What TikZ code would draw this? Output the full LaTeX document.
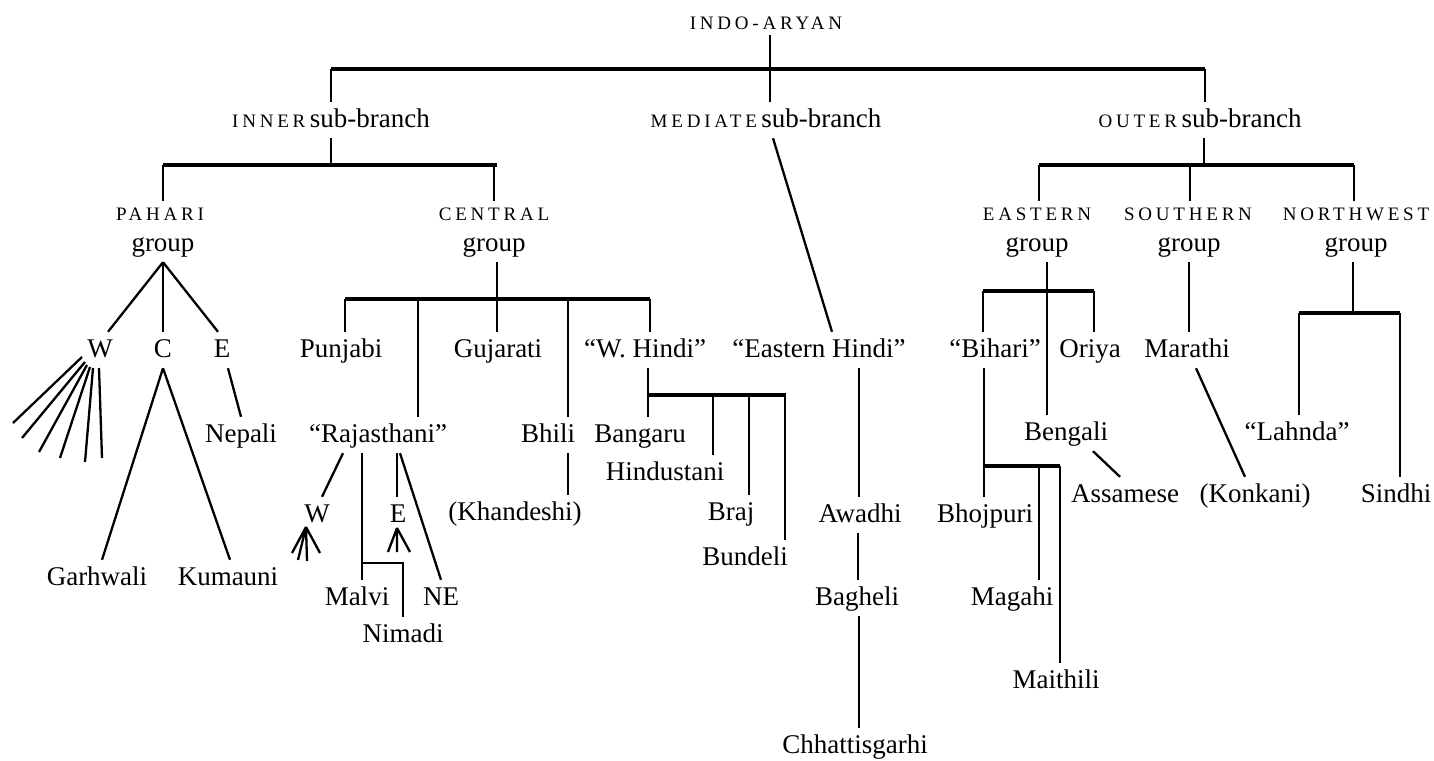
\documentclass[tikz,border=0pt]{standalone}
\usepackage{fontspec}
\setmainfont{Liberation Serif}
\newfontfamily\capf[LetterSpace=20]{Liberation Serif}
\newcommand\mysz{\fontsize{27}{30}\selectfont}
\newcommand\mysc[1]{{\capf\fontsize{19}{22}\selectfont #1}}
\begin{document}
\begin{tikzpicture}[x=1pt,y=-1pt,
  lab/.style={font=\mysz, anchor=base, inner sep=5pt, text height=20pt, text depth=6pt},
  capl/.style={font=\mysz, anchor=base, inner sep=5pt, text height=14pt, text depth=0pt},
  ln/.style={line width=2.3pt},
  barln/.style={line width=3.2pt}]
\useasboundingbox (0,0) rectangle (1434,760);

% ---- labels ----
\node[capl] (indo) at (766,30) {\mysc{INDO-ARYAN}};
\node[lab] (inner) at (331,127) {\mysc{INNER}\,sub-branch};
\node[lab] (med) at (766,127) {\mysc{MEDIATE}\,sub-branch};
\node[lab] (outer) at (1200,127) {\mysc{OUTER}\,sub-branch};

\node[capl] (pahari) at (160,220) {\mysc{PAHARI}};
\node[lab] (pgroup) at (163,251) {group};
\node[capl] (central) at (494,220) {\mysc{CENTRAL}};
\node[lab] (cgroup) at (494,251) {group};
\node[capl] (eastern) at (1037,220) {\mysc{EASTERN}};
\node[lab] (egroup) at (1037,251) {group};
\node[capl] (southern) at (1188,220) {\mysc{SOUTHERN}};
\node[lab] (sgroup) at (1189,251) {group};
\node[capl] (northwest) at (1356,220) {\mysc{NORTHWEST}};
\node[lab] (nwgroup) at (1356,251) {group};

\node[lab] (pw) at (100,357) {W};
\node[lab] (pc) at (163,357) {C};
\node[lab] (pe) at (222,357) {E};
\node[lab] (punjabi) at (341,357) {Punjabi};
\node[lab] (guj) at (498,357) {Gujarati};
\node[lab] (whindi) at (645,357) {“W. Hindi”};
\node[lab] (ehindi) at (819,357) {“Eastern Hindi”};
\node[lab] (bihari) at (995,357) {“Bihari”};
\node[lab] (oriya) at (1090,357) {Oriya};
\node[lab] (marathi) at (1187,357) {Marathi};

\node[lab] (nepali) at (241,442) {Nepali};
\node[lab] (raj) at (378,442) {“Rajasthani”};
\node[lab] (bhili) at (548,442) {Bhili};
\node[lab] (bangaru) at (640,442) {Bangaru};
\node[lab] (bengali) at (1066,440) {Bengali};
\node[lab] (lahnda) at (1297,440) {“Lahnda”};
\node[lab] (hind) at (665,480) {Hindustani};

\node[lab] (w2) at (317,522) {W};
\node[lab] (e2) at (398,522) {E};
\node[lab] (khand) at (515,520) {(Khandeshi)};
\node[lab] (braj) at (731,520) {Braj};
\node[lab] (awadhi) at (860,522) {Awadhi};
\node[lab] (bhoj) at (985,522) {Bhojpuri};
\node[lab] (assam) at (1125,502) {Assamese};
\node[lab] (konkani) at (1255,502) {(Konkani)};
\node[lab] (sindhi) at (1396,502) {Sindhi};
\node[lab] (bund) at (745,565) {Bundeli};
\node[lab] (garh) at (97,585) {Garhwali};
\node[lab] (kum) at (228,585) {Kumauni};
\node[lab] (malvi) at (357,605) {Malvi};
\node[lab] (ne) at (441,605) {NE};
\node[lab] (bagheli) at (857,605) {Bagheli};
\node[lab] (magahi) at (1012,605) {Magahi};
\node[lab] (nimadi) at (403,642) {Nimadi};
\node[lab] (maith) at (1056,688) {Maithili};
\node[lab] (chhat) at (855,753) {Chhattisgarhi};

% ---- top ----
\draw[ln] (770,0 |- indo.south) -- (770,0 |- med.north);
\draw[barln] (331,69) -- (1205,69);
\draw[ln] (331,69) -- (331,0 |- inner.north);
\draw[ln] (1205,69) -- (1205,0 |- outer.north);

% ---- inner ----
\draw[ln] (331,0 |- inner.south) -- (331,165);
\draw[barln] (163,165) -- (497,165);
\draw[ln] (163,165) -- (163,0 |- pahari.north);
\draw[ln] (494,165) -- (494,0 |- central.north);

% ---- outer ----
\draw[ln] (1204,0 |- outer.south) -- (1204,165);
\draw[barln] (1039,165) -- (1354,165);
\draw[ln] (1039,165) -- (1039,0 |- eastern.north);
\draw[ln] (1190,165) -- (1190,0 |- southern.north);
\draw[ln] (1354,165) -- (1354,0 |- northwest.north);

% ---- mediate ----
\draw[ln] (773,0 |- med.south) -- (832,0 |- ehindi.north);

% ---- pahari ----
\draw[ln] (pgroup.south) -- (108,0 |- pw.north);
\draw[ln] (pgroup.south) -- (pc.north);
\draw[ln] (pgroup.south) -- (218,0 |- pe.north);
\draw[ln] (82,357) -- (13,423);
\draw[ln] (85,362) -- (22,438);
\draw[ln] (87,365) -- (39,452);
\draw[ln] (90,367) -- (60,458);
\draw[ln] (93,368) -- (85,462);
\draw[ln] (99,368) -- (102,458);
\draw[ln] (pc.south) -- (102,0 |- garh.north);
\draw[ln] (pc.south) -- (230,0 |- kum.north);
\draw[ln] (228,0 |- pe.south) -- (241,0 |- nepali.north);

% ---- central ----
\draw[ln] (497,0 |- cgroup.south) -- (497,0 |- guj.north);
\draw[barln] (345,299) -- (650,299);
\draw[ln] (345,299) -- (345,0 |- punjabi.north);
\draw[ln] (418,299) -- (418,0 |- raj.north);
\draw[ln] (568,299) -- (568,0 |- bhili.north);
\draw[ln] (568,0 |- bhili.south) -- (568,0 |- khand.north);
\draw[ln] (650,299) -- (650,0 |- whindi.north);

% ---- W. Hindi ----
\draw[ln] (648,0 |- whindi.south) -- (648,0 |- bangaru.north);
\draw[barln] (648,395) -- (786,395);
\draw[ln] (713,395) -- (713,0 |- hind.north);
\draw[ln] (749,395) -- (749,0 |- braj.north);
\draw[ln] (785,395) -- (785,0 |- bund.north);

% ---- Eastern Hindi ----
\draw[ln] (859,0 |- ehindi.south) -- (859,0 |- awadhi.north);
\draw[ln] (858,0 |- awadhi.south) -- (858,0 |- bagheli.north);
\draw[ln] (859,0 |- bagheli.south) -- (859,0 |- chhat.north);

% ---- Rajasthani ----
\draw[ln] (343,0 |- raj.south) -- (322,0 |- w2.north);
\draw[ln] (362,0 |- raj.south) -- (362,0 |- malvi.north);
\draw[ln] (362,563) -- (403,563) -- (403,0 |- nimadi.north);
\draw[ln] (397,0 |- raj.south) -- (397,0 |- e2.north);
\draw[ln] (400,0 |- raj.south) -- (ne.north);
\coordinate (wf) at (306,527);
\draw[ln] (wf) -- (292,553) (wf) -- (298,560) (wf) -- (307,561) (wf) -- (320,553);
\coordinate (ef) at (397,528);
\draw[ln] (ef) -- (388,552) (ef) -- (397,552) (ef) -- (410,552);

% ---- eastern group ----
\draw[ln] (1047,0 |- egroup.south) -- (1047,0 |- bengali.north);
\draw[barln] (983,291) -- (1094,291);
\draw[ln] (983,291) -- (983,0 |- bihari.north);
\draw[ln] (1094,291) -- (1094,0 |- oriya.north);
\draw[ln] (984,0 |- bihari.south) -- (984,0 |- bhoj.north);
\draw[barln] (984,466) -- (1060,466);
\draw[ln] (1039,466) -- (1039,0 |- magahi.north);
\draw[ln] (1060,466) -- (1060,0 |- maith.north);
\draw[ln] (1093,0 |- bengali.south) -- (1120,0 |- assam.north);

% ---- southern ----
\draw[ln] (1189,0 |- sgroup.south) -- (1189,0 |- marathi.north);
\draw[ln] (1196,0 |- marathi.south) -- (1245,0 |- konkani.north);

% ---- northwest ----
\draw[ln] (1353,0 |- nwgroup.south) -- (1353,313);
\draw[barln] (1299,313) -- (1400,313);
\draw[ln] (1299,313) -- (1299,0 |- lahnda.north);
\draw[ln] (1400,313) -- (1400,0 |- sindhi.north);
\end{tikzpicture}
\end{document}
